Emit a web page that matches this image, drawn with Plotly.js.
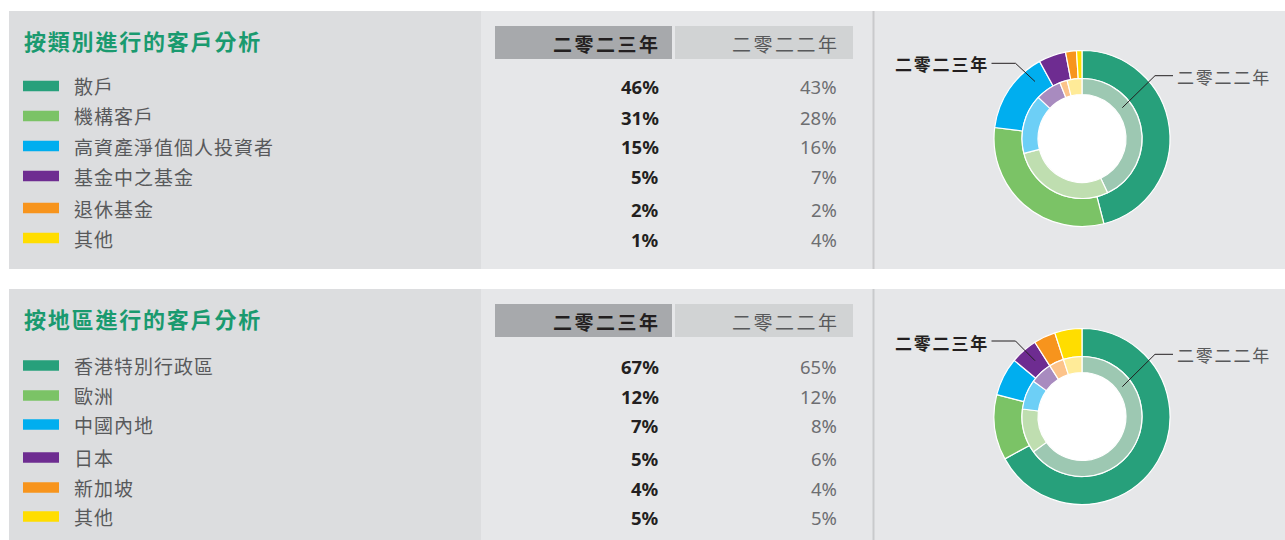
<!DOCTYPE html>
<html>
<head>
<meta charset="utf-8">
<script src="https://cdn.plot.ly/plotly-3.0.1.min.js"></script>
<style>
  html, body { margin: 0; padding: 0; background: #ffffff; }
  #chart { width: 1285px; height: 540px; }
</style>
</head>
<body>
<div id="chart"></div>
<script>
// ---------- data ----------
const titleCategory = '按類別進行的客戶分析';
const titleRegion = '按地區進行的客戶分析';
const yearLabels = ['二零二三年', '二零二二年'];

const categoryLabels = ['散戶', '機構客戶', '高資產淨值個人投資者', '基金中之基金', '退休基金', '其他'];
const category2023 = [46, 31, 15, 5, 2, 1];
const category2022 = [43, 28, 16, 7, 2, 4];

const regionLabels = ['香港特別行政區', '歐洲', '中國內地', '日本', '新加坡', '其他'];
const region2023 = [67, 12, 7, 5, 4, 5];
const region2022 = [65, 12, 8, 6, 4, 5];

// ---------- styles ----------
const W = 1285, H = 540;
const colors2023 = ['#27a07b', '#7bc366', '#00aeef', '#6e2c91', '#f7941d', '#ffdd00'];
const colors2022 = ['#9dc8b2', '#bfdeb0', '#6dcff6', '#a88bbf', '#fcc38a', '#ffeb98'];
const CJK = '"Noto Sans CJK TC", "Noto Sans CJK SC", sans-serif';
const NUM = '"Noto Sans", "Open Sans", sans-serif';

const px = x => x / W;
const py = y => 1 - y / H;

const shapes = [];
const annotations = [];
const data = [];

function rect(x0, y0, x1, y1, fill, layer) {
  shapes.push({type: 'rect', xref: 'paper', yref: 'paper', x0: px(x0), x1: px(x1), y0: py(y1), y1: py(y0),
    fillcolor: fill, line: {width: 0}, layer: layer || 'below'});
}
function ann(text, x, y, xanchor, font) {
  annotations.push({text: text, xref: 'paper', yref: 'paper', x: px(x), y: py(y), xanchor: xanchor, yanchor: 'middle',
    showarrow: false, font: font, align: xanchor});
}
function spaced(t, s) { return '<span style="letter-spacing:' + s + 'px">' + t + '</span>'; }

function panel(top, bottom, title, labels, v2023, v2022, rowY, labelY, lines) {
  // backgrounds
  rect(9, top, 481, bottom, '#dcdddf');
  rect(481, top, 1285, bottom, '#e6e7e9');
  rect(872.5, top, 874.5, bottom, '#c9cacc');
  // header cells
  rect(495, top + 15, 672, top + 48, '#a7a9ac');
  rect(675, top + 15, 853, top + 48, '#d1d3d4');
  ann(spaced(yearLabels[0], 2.5), 663, top + 32.5, 'right', {family: CJK, size: 19, color: '#231f20', weight: 700});
  ann(spaced(yearLabels[1], 2.5), 842, top + 32.5, 'right', {family: CJK, size: 19, color: '#58595b'});
  // title
  ann(spaced(title, 1.8), 22, top + 29, 'left', {family: CJK, size: 22, color: '#1a9a6f', weight: 700});
  // rows
  labels.forEach((lab, i) => {
    const y = rowY[i];
    rect(23, y - 5.3, 59, y + 5.3, colors2023[i], 'above');
    ann(spaced(lab, 1), 72, y, 'left', {family: CJK, size: 19, color: '#58595b'});
    ann(v2023[i] + '%', 661, y + 1, 'right', {family: NUM, size: 18.5, color: '#231f20', weight: 700});
    ann(v2022[i] + '%', 839, y + 1, 'right', {family: NUM, size: 18.5, color: '#6d6e71'});
  });
  // donut
  const cx = 1082, cy = top + 127.5, rOut = 88, rMid = 60, rIn = 44;
  shapes.push({type: 'circle', xref: 'paper', yref: 'paper', x0: px(cx - rIn), x1: px(cx + rIn), y0: py(cy + rIn), y1: py(cy - rIn),
    fillcolor: '#ffffff', line: {width: 0}, layer: 'below'});
  data.push({type: 'pie', values: v2023, labels: labels, sort: false, direction: 'clockwise', rotation: 0,
    hole: rMid / rOut, textinfo: 'none', hoverinfo: 'label+percent', showlegend: false,
    marker: {colors: colors2023, line: {color: '#ffffff', width: 1.2}},
    domain: {x: [px(cx - rOut), px(cx + rOut)], y: [py(cy + rOut), py(cy - rOut)]}});
  data.push({type: 'pie', values: v2022, labels: labels, sort: false, direction: 'clockwise', rotation: 0,
    hole: rIn / rMid, textinfo: 'none', hoverinfo: 'label+percent', showlegend: false,
    marker: {colors: colors2022, line: {color: '#ffffff', width: 1.2}},
    domain: {x: [px(cx - rMid), px(cx + rMid)], y: [py(cy + rMid), py(cy - rMid)]}});
  // callouts
  ann(spaced(yearLabels[0], 1.8), 893, labelY[0], 'left', {family: CJK, size: 17, color: '#231f20', weight: 700});
  ann(spaced(yearLabels[1], 1.8), 1175, labelY[1], 'left', {family: CJK, size: 17, color: '#58595b'});
  lines.forEach(pts => {
    const d = pts.map((p, k) => (k ? 'L' : 'M') + px(p[0]) + ',' + py(p[1])).join(' ');
    shapes.push({type: 'path', xref: 'paper', yref: 'paper', path: d, line: {color: '#231f20', width: 1}, layer: 'above'});
  });
}

panel(11, 269, titleCategory, categoryLabels, category2023, category2022,
  [86, 116, 146, 176, 208, 238], [64, 76.5],
  [[[991.5, 63.3], [1015.5, 63.3], [1035, 81.5]], [[1173, 75.7], [1155, 75.7], [1122.3, 107.7]]]);

panel(289, 540, titleRegion, regionLabels, region2023, region2022,
  [365.5, 395.5, 424.5, 457.5, 487.5, 516.5], [342, 354.5],
  [[[991.5, 341], [1015.5, 341], [1035, 360.7]], [[1173, 354.3], [1155, 354.3], [1122.3, 386.7]]]);

const layout = {
  width: W, height: H,
  margin: {l: 0, r: 0, t: 0, b: 0},
  paper_bgcolor: '#ffffff',
  plot_bgcolor: '#ffffff',
  showlegend: false,
  shapes: shapes,
  annotations: annotations
};

Plotly.newPlot('chart', data, layout, {displayModeBar: false, staticPlot: false});
</script>
</body>
</html>
